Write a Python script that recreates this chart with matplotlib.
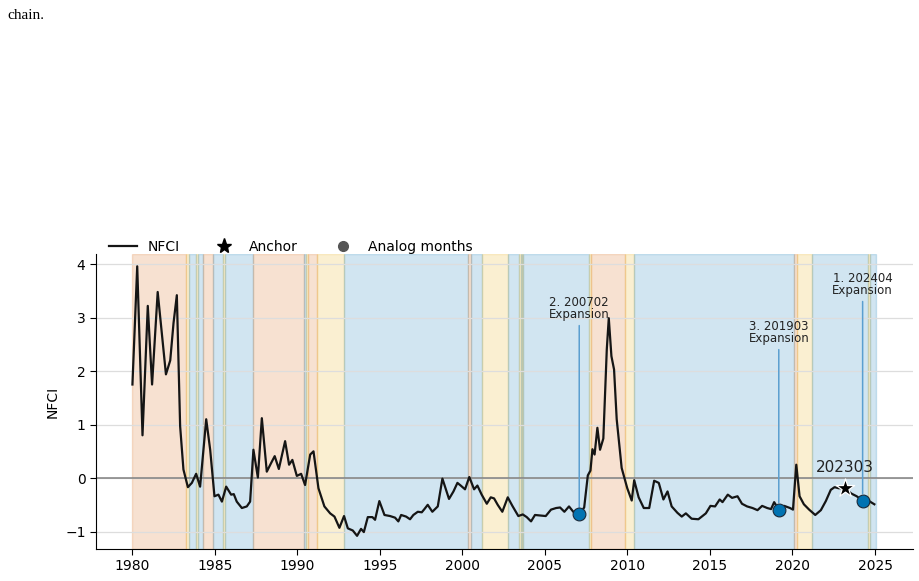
import numpy as np
import matplotlib
matplotlib.use("Agg")
import matplotlib.pyplot as plt
from matplotlib.lines import Line2D

# NFCI readings (decimal year, index value)
years = [
    1980.01, 1980.30, 1980.62, 1980.94, 1981.20, 1981.54, 1982.04, 1982.30, 1982.50, 1982.70,
    1982.90, 1983.10, 1983.37, 1983.61, 1983.87, 1984.11, 1984.48, 1984.72, 1984.98, 1985.22,
    1985.43, 1985.69, 1985.99, 1986.15, 1986.33, 1986.64, 1986.94, 1987.14, 1987.34, 1987.61,
    1987.85, 1988.15, 1988.41, 1988.63, 1988.88, 1989.26, 1989.50, 1989.70, 1989.97, 1990.23,
    1990.47, 1990.78, 1990.98, 1991.28, 1991.64, 1991.99, 1992.25, 1992.55, 1992.83, 1993.06,
    1993.36, 1993.62, 1993.86, 1994.03, 1994.27, 1994.55, 1994.71, 1994.97, 1995.28, 1995.62,
    1995.92, 1996.12, 1996.29, 1996.59, 1996.83, 1997.03, 1997.30, 1997.54, 1997.70, 1997.90,
    1998.18, 1998.51, 1998.79, 1999.19, 1999.46, 1999.70, 1999.90, 2000.16, 2000.42, 2000.71,
    2000.91, 2001.17, 2001.48, 2001.72, 2001.92, 2002.14, 2002.42, 2002.75, 2003.03, 2003.39,
    2003.66, 2003.90, 2004.16, 2004.40, 2004.71, 2005.05, 2005.37, 2005.68, 2005.92, 2006.18,
    2006.46, 2006.72, 2007.08, 2007.38, 2007.60, 2007.76, 2007.88, 2008.01, 2008.18, 2008.34,
    2008.54, 2008.75, 2008.87, 2009.03, 2009.19, 2009.35, 2009.65, 2009.99, 2010.26, 2010.41,
    2010.68, 2010.99, 2011.32, 2011.62, 2011.90, 2012.18, 2012.43, 2012.68, 2013.03, 2013.29,
    2013.54, 2013.89, 2014.30, 2014.75, 2015.03, 2015.31, 2015.59, 2015.76, 2016.08, 2016.34,
    2016.67, 2016.94, 2017.25, 2017.58, 2017.88, 2018.16, 2018.47, 2018.70, 2018.89, 2019.17,
    2019.50, 2019.85, 2020.03, 2020.23, 2020.43, 2020.69, 2021.01, 2021.38, 2021.72, 2022.02,
    2022.32, 2022.55, 2022.80, 2023.17, 2023.57, 2023.89, 2024.25, 2024.59, 2024.96,
]
nfci = [
    1.75, 3.96, 0.80, 3.22, 1.75, 3.48, 1.94, 2.20, 2.90, 3.42,
    0.97, 0.16, -0.17, -0.09, 0.08, -0.16, 1.10, 0.53, -0.34, -0.31,
    -0.44, -0.16, -0.31, -0.30, -0.44, -0.56, -0.53, -0.44, 0.53, 0.01,
    1.12, 0.12, 0.28, 0.41, 0.17, 0.69, 0.25, 0.34, 0.04, 0.08,
    -0.13, 0.44, 0.50, -0.19, -0.53, -0.66, -0.72, -0.93, -0.71, -0.94,
    -0.98, -1.08, -0.95, -1.01, -0.73, -0.73, -0.78, -0.43, -0.69, -0.71,
    -0.74, -0.81, -0.69, -0.72, -0.77, -0.69, -0.63, -0.64, -0.58, -0.50,
    -0.63, -0.53, -0.01, -0.39, -0.25, -0.09, -0.14, -0.21, 0.02, -0.21,
    -0.14, -0.31, -0.48, -0.36, -0.38, -0.50, -0.63, -0.36, -0.52, -0.71,
    -0.68, -0.73, -0.81, -0.69, -0.70, -0.71, -0.59, -0.56, -0.55, -0.63,
    -0.53, -0.63, -0.68, -0.55, 0.05, 0.14, 0.54, 0.44, 0.94, 0.53,
    0.74, 2.41, 2.99, 2.28, 2.03, 1.10, 0.19, -0.19, -0.42, -0.04,
    -0.36, -0.56, -0.56, -0.05, -0.09, -0.40, -0.25, -0.53, -0.65, -0.72,
    -0.66, -0.76, -0.77, -0.66, -0.52, -0.53, -0.40, -0.45, -0.31, -0.37,
    -0.34, -0.48, -0.53, -0.56, -0.60, -0.52, -0.56, -0.58, -0.45, -0.59,
    -0.52, -0.56, -0.59, 0.25, -0.34, -0.49, -0.59, -0.69, -0.60, -0.43,
    -0.22, -0.17, -0.19, -0.19, -0.29, -0.34, -0.42, -0.42, -0.49,
]

# regime segments: start year, regime code (end = next start)
regime_start = [
    1980.00, 1983.26, 1983.46, 1983.88, 1983.98, 1984.28, 1984.92, 1985.52, 1985.60, 1987.30,
    1990.43, 1990.55, 1990.63, 1991.18, 1992.85, 2000.36, 2000.53, 2001.19, 2002.79, 2003.45,
    2003.53, 2003.62, 2003.70, 2007.69, 2007.80, 2009.85, 2010.40, 2020.10, 2020.25, 2021.18,
    2024.59, 2024.68,
]
regime_code = [
    "R", "Y", "B", "Y", "B", "R", "B", "Y", "B", "R",
    "B", "Y", "R", "Y", "B", "R", "B", "Y", "B", "Y",
    "B", "Y", "B", "Y", "R", "Y", "B", "R", "Y", "B",
    "Y", "B",
]
regime_end_last = 2025.04
regime_colors = {"R": "#d55e00", "B": "#0173b2", "Y": "#e6a800"}

anchor_year = 2023.17
anchor_val = -0.19
anchor_label = "202303"

analog_years = [2024.25, 2007.08, 2019.17]
analog_vals = [-0.42, -0.68, -0.59]
analog_labels = ["1. 202404\nExpansion", "2. 200702\nExpansion", "3. 201903\nExpansion"]
analog_text_y = [3.38, 2.93, 2.48]

fig = plt.figure(figsize=(9.2, 5.81), dpi=100)
ax = fig.add_axes([0.1043, 0.0551, 0.8877, 0.5077])

# regime shading
ends = regime_start[1:] + [regime_end_last]
for s, e, c in zip(regime_start, ends, regime_code):
    ax.axvspan(s, e, color=regime_colors[c], alpha=0.18, zorder=0)

ax.grid(axis="y", color="#dddddd", linewidth=0.9)
ax.axhline(0, color="#808080", linewidth=1.1, zorder=2)

ax.plot(years, nfci, color="#151515", linewidth=1.6, zorder=3)

ax.scatter([anchor_year], [anchor_val], marker="*", s=190, color="black",
           edgecolor="white", linewidth=0.9, zorder=5)
ax.text(anchor_year, anchor_val + 0.25, anchor_label, ha="center", va="bottom",
        fontsize=11, color="#222222", zorder=6)

ax.scatter(analog_years, analog_vals, s=85, color="#0173b2", edgecolor="#1b2a3a",
           linewidth=0.8, zorder=5)
for xv, yv, lab, ty in zip(analog_years, analog_vals, analog_labels, analog_text_y):
    ax.annotate(lab, xy=(xv, yv), xytext=(xv, ty), ha="center", va="bottom",
                fontsize=8.5, color="#222222", linespacing=0.9,
                arrowprops=dict(arrowstyle="-", color="#5b9fd0", lw=1.1,
                                shrinkA=1, shrinkB=5), zorder=4)

ax.set_xlim(1977.8, 2027.28)
ax.set_ylim(-1.326, 4.19)
ax.set_xticks(range(1980, 2026, 5))
ax.set_yticks(range(-1, 5))
ax.set_ylabel("NFCI", fontsize=10)
ax.tick_params(labelsize=10, length=4)
for side in ["top", "right"]:
    ax.spines[side].set_visible(False)

handles = [
    Line2D([0], [0], color="#151515", linewidth=1.6),
    Line2D([0], [0], marker="*", color="black", linestyle="none", markersize=11),
    Line2D([0], [0], marker="o", color="#555555", linestyle="none", markersize=7),
]
ax.legend(handles, ["NFCI", "Anchor", "Analog months"], loc="lower left",
          bbox_to_anchor=(0.009, 0.982), ncol=3, frameon=False, fontsize=10,
          columnspacing=2.2, borderaxespad=0.0)

fig.text(0.008, 0.985, "chain.", fontsize=11, family="Liberation Serif", va="top")

fig.savefig("out.png", dpi=100)
